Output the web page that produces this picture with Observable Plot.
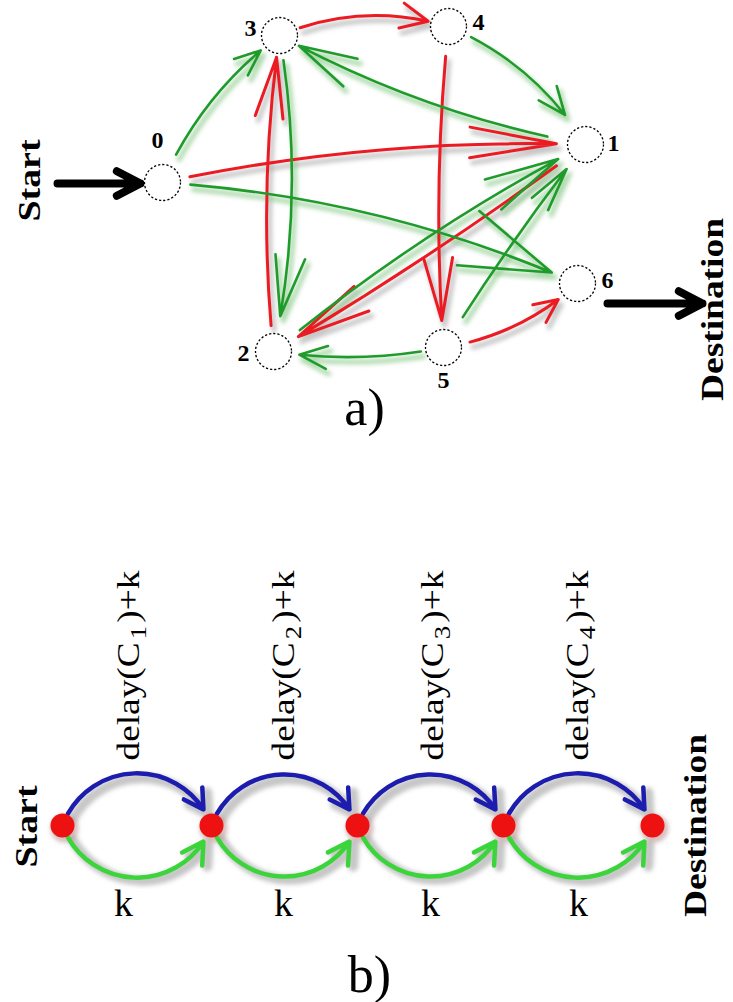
<!DOCTYPE html>
<html><head><meta charset="utf-8">
<script src="https://cdn.jsdelivr.net/npm/d3@7"></script>
<script src="https://cdn.jsdelivr.net/npm/@observablehq/plot@0.6"></script>
<style>html,body{margin:0;padding:0;background:#fff;} svg text{font-family:"Liberation Serif","DejaVu Serif",serif !important;}</style>
</head><body><div id="chart"></div>
<script>
const W = 733, H = 1002;

// ---------- a) graph ----------
const nodeIds = ["0", "1", "2", "3", "4", "5", "6"];
const nodeX = [162, 585, 273, 279, 448, 443, 577];
const nodeY = [182, 144, 351, 35, 26, 347, 283];
const labelX = [157, 613, 243, 250, 478, 443, 607];
const labelY = [140, 143, 353, 28, 22, 380, 280];

const edgeFrom = ["3", "0", "2", "4", "1", "5", "0", "3", "4", "1", "0", "2", "5", "5"];
const edgeTo   = ["4", "1", "3", "5", "2", "6", "3", "2", "1", "3", "6", "1", "2", "1"];
const edgeKind = ["red", "red", "red", "red", "red", "red",
                  "green", "green", "green", "green", "green", "green", "green", "green"];

// drawing style per edge (bend angle, arrowhead size/angle, insets)
const edgeBend = [20, 7, 7, -5, 3, -17, 15, 11, 18, 9, 10, 6, 10, 3];
const edgeHead = [30, 88, 62, 64, 75, 26, 28, 62, 30, 60, 95, 76, 30, 45];
const edgeHeadAngle = [50, 20, 26, 26, 22, 50, 45, 28, 45, 30, 36, 26, 45, 26];
const edgeInsetStart = [22, 28, 26, 30, 36, 27, 31, 25, 25, 39, 28, 34, 23, 36];
const edgeInsetEnd = [21, 29, 22, 27, 29, 25, 24, 36, 36, 22, 28, 31, 26, 31];

// Start / Destination arrows of a)
const ioX1 = [57, 607];
const ioX2 = [140, 702];
const ioY = [183, 303];

// ---------- b) chain ----------
const chainX = [62, 211, 357, 503, 652];
const chainY = 825;
const hopLabels = ["delay(C1)+k", "delay(C2)+k", "delay(C3)+k", "delay(C4)+k"];
const hopLabelX = [128, 283, 432, 577];
const hopLabelY = 665;
const kLabels = ["k", "k", "k", "k"];
const kLabelX = [123, 283, 430, 578];
const kLabelY = 903;

// ---------- texts ----------
const sideTexts = ["Start", "Destination", "Start", "Destination"];
const sideX = [30, 713, 27, 696];
const sideY = [180, 309, 826, 825];
const panelTexts = ["a)", "b)"];
const panelX = [364, 369];
const panelY = [408, 975];

const col = {red: "#ec1b23", green: "#1f9b2b", blue: "#1c1caf", lime: "#3bd53b", dot: "#ee1111"};
const shadowCol = {red: "#b0b0b0", green: "#90cc90"};
const sw = {red: 3, green: 2.6};
const serif = "Liberation Serif";

const nodes = nodeIds.map((id, i) => ({id, x: nodeX[i], y: nodeY[i], lx: labelX[i], ly: labelY[i]}));
const byId = Object.fromEntries(nodes.map(n => [n.id, n]));
const edges = edgeFrom.map((f, i) => ({
  i, kind: edgeKind[i],
  x1: byId[f].x, y1: byId[f].y, x2: byId[edgeTo[i]].x, y2: byId[edgeTo[i]].y
}));

const shadowMarks = edges.map(e => Plot.arrow([e], {
  x1: "x1", y1: "y1", x2: "x2", y2: "y2",
  bend: edgeBend[e.i], headAngle: edgeHeadAngle[e.i],
  insetStart: edgeInsetStart[e.i], insetEnd: edgeInsetEnd[e.i],
  headLength: edgeHead[e.i] * 1.5 / 5,
  stroke: shadowCol[e.kind], strokeWidth: 5, strokeOpacity: 0.7, dx: 3, dy: 5,
  ariaDescription: "shadow"
}));
const edgeMarks = edges.map(e => Plot.arrow([e], {
  x1: "x1", y1: "y1", x2: "x2", y2: "y2",
  bend: edgeBend[e.i], headAngle: edgeHeadAngle[e.i],
  insetStart: edgeInsetStart[e.i], insetEnd: edgeInsetEnd[e.i],
  headLength: edgeHead[e.i] * 1.5 / sw[e.kind],
  stroke: col[e.kind], strokeWidth: sw[e.kind]
}));

const io = ioX1.map((x1, i) => ({x1, x2: ioX2[i], y: ioY[i]}));
const hops = chainX.slice(0, -1).map((x, i) => ({x1: x, x2: chainX[i + 1], y: chainY}));
const chainNodes = chainX.map(x => ({x, y: chainY}));
const hopText = hopLabels.map((t, i) => ({t, x: hopLabelX[i], y: hopLabelY}));
const kText = kLabels.map((t, i) => ({t, x: kLabelX[i], y: kLabelY}));
const sides = sideTexts.map((t, i) => ({t, x: sideX[i], y: sideY[i]}));
const panels = panelTexts.map((t, i) => ({t, x: panelX[i], y: panelY[i]}));

const hopOpts = (bend, stroke, w, head) => ({
  x1: "x1", x2: "x2", y1: "y", y2: "y", bend, stroke, strokeWidth: w,
  headLength: head * 1.5 / w, headAngle: 60, insetStart: 13, insetEnd: 18
});

const chart = Plot.plot({
  width: W, height: H, margin: 0,
  x: {domain: [0, W], range: [0, W], axis: null},
  y: {domain: [0, H], range: [0, H], axis: null},
  style: {background: "white", fontFamily: serif},
  marks: [
    ...shadowMarks,
    Plot.arrow(hops, {...hopOpts(70, "#909090", 10, 22), strokeOpacity: 0.5, dx: 5, dy: 5, ariaDescription: "shadow"}),
    Plot.arrow(hops, {...hopOpts(-70, "#909090", 10, 22), strokeOpacity: 0.5, dx: 5, dy: 3, ariaDescription: "shadow"}),
    Plot.dot(chainNodes, {x: "x", y: "y", r: 14, fill: "#b08080", fillOpacity: 0.5, dx: 2, dy: 3, ariaDescription: "shadow"}),
    ...edgeMarks,
    Plot.dot(nodes, {x: "x", y: "y", r: 18, fill: "white", stroke: "black", strokeWidth: 1.3, strokeDasharray: "2.2,2"}),
    Plot.text(nodes, {x: "lx", y: "ly", text: "id", fontSize: 24, fontWeight: "bold", fontFamily: serif, fill: "black"}),
    Plot.arrow(io, {x1: "x1", x2: "x2", y1: "y", y2: "y", stroke: "black", strokeWidth: 8, headLength: 5, headAngle: 55, strokeLinejoin: "miter"}),
    Plot.arrow(hops, hopOpts(70, col.blue, 4.5, 22)),
    Plot.arrow(hops, hopOpts(-70, col.lime, 4.5, 24)),
    Plot.dot(chainNodes, {x: "x", y: "y", r: 12, fill: col.dot}),
    Plot.text(hopText, {x: "x", y: "y", text: "t", rotate: -90, fontSize: 32, fontFamily: serif, fill: "black"}),
    Plot.text(kText, {x: "x", y: "y", text: "t", fontSize: 38, fontFamily: serif, fill: "black"}),
    Plot.text(sides, {x: "x", y: "y", text: "t", rotate: -90, fontSize: 31, fontWeight: "bold", fontFamily: serif, fill: "black"}),
    Plot.text(panels, {x: "x", y: "y", text: "t", fontSize: 52, fontFamily: serif, fill: "black"})
  ]
});

// soft blur for shadows
const ns = "http://www.w3.org/2000/svg";
const defs = document.createElementNS(ns, "defs");
defs.innerHTML = '<filter id="soft" x="-20%" y="-20%" width="140%" height="140%"><feGaussianBlur stdDeviation="2"/></filter>';
chart.insertBefore(defs, chart.firstChild);
chart.querySelectorAll('[aria-description="shadow"]').forEach(g => g.setAttribute("filter", "url(#soft)"));

// subscripts and stretched labels
chart.querySelectorAll("text").forEach(t => {
  const s = t.textContent;
  const m = s.match(/^delay\(C(\d)\)\+k$/);
  if (m) {
    t.textContent = "";
    const a = document.createElementNS(ns, "tspan"); a.textContent = "delay(C\u200A"; t.appendChild(a);
    const b = document.createElementNS(ns, "tspan"); b.textContent = m[1];
    b.setAttribute("dy", "7"); b.setAttribute("font-size", "23"); t.appendChild(b);
    const c = document.createElementNS(ns, "tspan"); c.textContent = "\u200A)+k";
    c.setAttribute("dy", "-7"); t.appendChild(c);
    t.setAttribute("textLength", "190");
    t.setAttribute("lengthAdjust", "spacingAndGlyphs");
  } else if (s === "Destination") {
    t.setAttribute("textLength", "183");
    t.setAttribute("lengthAdjust", "spacingAndGlyphs");
  } else if (s === "Start") {
    t.setAttribute("textLength", "82");
    t.setAttribute("lengthAdjust", "spacingAndGlyphs");
  }
});

document.getElementById("chart").appendChild(chart);
</script>
</body></html>
